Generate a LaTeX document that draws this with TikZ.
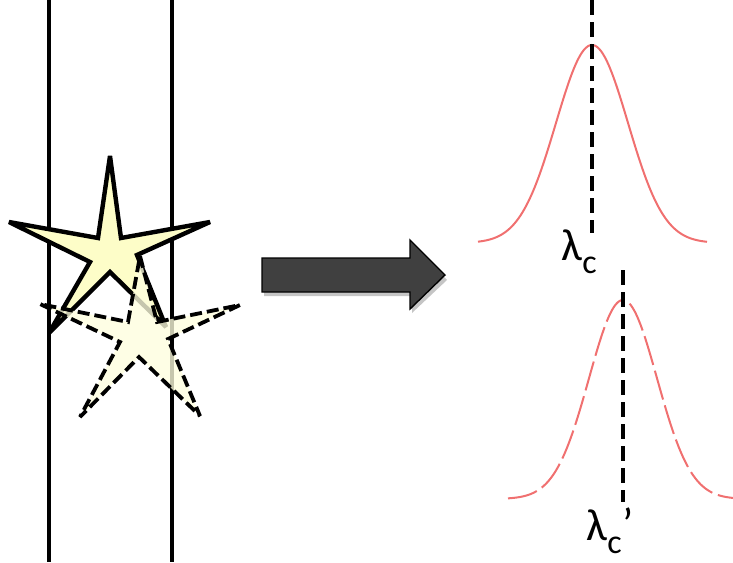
\documentclass[tikz,border=0pt]{standalone}
\usepackage{fontspec}
\setmainfont{Carlito}
\definecolor{starfill}{RGB}{253,253,200}
\definecolor{starfilltwo}{RGB}{254,254,222}
\definecolor{curvered}{RGB}{240,112,112}
\definecolor{arrowgrey}{RGB}{64,64,64}
\tikzset{
  wall/.style={line width=4pt, black},
  solidstar/.style={line width=4.4pt, line join=miter, miter limit=3, fill=starfill, draw=black},
  dashstar/.style={line width=3.8pt, line join=miter, miter limit=3, dash pattern=on 12pt off 5pt, fill=starfilltwo, fill opacity=0.78, draw=black, draw opacity=1},
  peakline/.style={line width=4pt, black, dash pattern=on 15pt off 7pt},
  spectrum/.style={curvered, line width=2pt},
  bigarrow/.style={fill=arrowgrey, draw=black, line width=1.4pt, line join=miter},
  lab/.style={inner sep=0pt, anchor=base west, font=\fontsize{45}{48}\selectfont},
  sublab/.style={inner sep=0pt, anchor=base west, font=\fontsize{34}{36}\selectfont},
}
\begin{document}
\begin{tikzpicture}[x=1pt, y=-1pt]
\useasboundingbox (0,0) rectangle (733,562);
% vertical walls
\coordinate (w1t) at (49,0); \coordinate (w1b) at (49,562);
\coordinate (w2t) at (172,0); \coordinate (w2b) at (172,562);
\draw[wall] (w1t) -- (w1b);
\draw[wall] (w2t) -- (w2b);
% solid star
\draw[solidstar] (110,156) -- (121,238) -- (210,222) -- (137,255) -- (166,327)
  -- (110,272) -- (49,333) -- (90,262) -- (9,222) -- (98,238) -- cycle;
% dashed star
\draw[dashstar] (140,256) -- (157,322) -- (240,305) -- (168,339) -- (200,416)
  -- (139,357) -- (80,417) -- (120,342) -- (40,304) -- (128,322) -- cycle;
% arrow
\fill[black!45, opacity=0.5] (264,262) -- (412,262) -- (412,245) -- (447,280) -- (412,313) -- (412,296) -- (264,296) -- cycle;
\draw[bigarrow] (262,258) -- (410,258) -- (410,240) -- (445,275) -- (410,309) -- (410,292) -- (262,292) -- cycle;
% upper spectrum
\draw[spectrum, domain=478:707, samples=120, smooth] plot (\x, {243 - 198*exp(-((\x-592)^2)/2592)});
\coordinate (p1t) at (592,0); \coordinate (p1b) at (592,233);
\draw[peakline] (p1t) -- (p1b);
\node[lab] (l1) at (561,260) {λ};
\node[sublab] (l1s) at (l1.base east) [yshift=-13pt] {c};
% lower spectrum
\draw[spectrum, dash pattern=on 30pt off 6pt, domain=508:733, samples=120, smooth] plot (\x, {499 - 199*exp(-((\x-623)^2)/2312)});
\coordinate (p2t) at (623,270); \coordinate (p2b) at (623,502);
\draw[peakline] (p2t) -- (p2b);
\node[lab] (l2) at (586,540) {λ};
\node[sublab] (l2s) at (l2.base east) [yshift=-13pt] {c};
\node[lab] (l2p) at (l2s.base east) [yshift=14pt, xshift=0pt] {’};
\end{tikzpicture}
\end{document}
